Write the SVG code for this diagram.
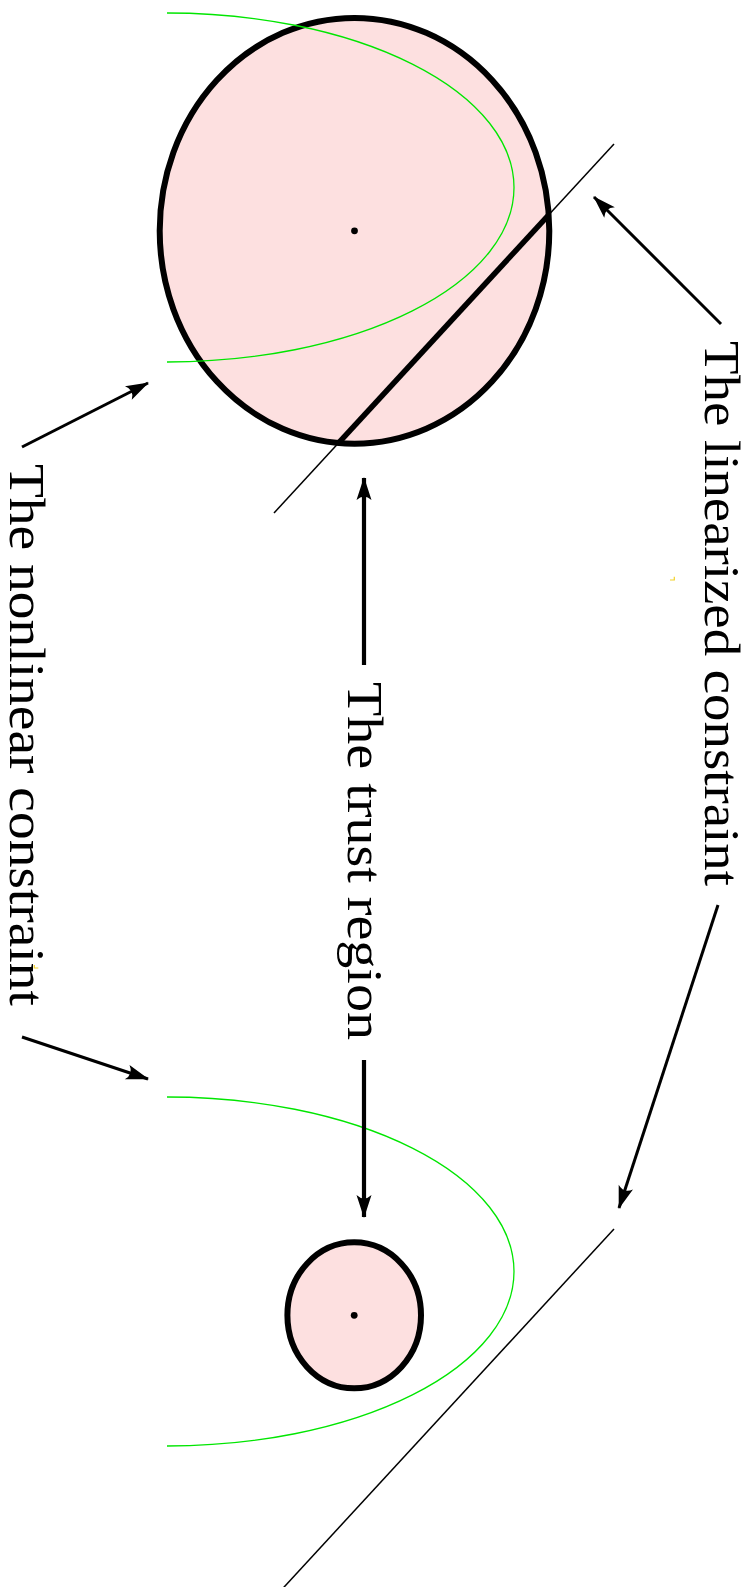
<svg xmlns="http://www.w3.org/2000/svg" width="752" height="1587" viewBox="0 0 752 1587">
  <style>
    .region { fill: #fde0e0; stroke: #000; }
    .nonlin { fill: none; stroke: #00e600; stroke-width: 1.3; }
    .thin { fill: none; stroke: #000; stroke-width: 1.5; }
    .chord { fill: none; stroke: #000; stroke-width: 5.5; }
    .dot { fill: #000; }
    .arrow { fill: none; stroke: #000; stroke-width: 3; marker-end: url(#head); }
    .arrow.bold { stroke-width: 4.2; }
    .label { font-family: "Liberation Serif", "Times New Roman", serif; font-size: 50px; fill: #000; }
    .speck { fill: none; stroke: #f2d22a; stroke-width: 1.2; }
  </style>
  <defs>
    <marker id="head" markerUnits="userSpaceOnUse" viewBox="-24 -9 26 18" refX="0" refY="0" markerWidth="26" markerHeight="18" orient="auto">
      <path d="M1,0 L-22,-7.5 Q-15,0 -22,7.5 Z" fill="#000"/>
    </marker>
  </defs>

  <g id="large-trust-region">
    <ellipse class="region" cx="354.5" cy="230.8" rx="194.8" ry="212.9" stroke-width="6"/>
    <circle class="dot" cx="354.5" cy="230.8" r="3.4"/>
  </g>
  <g id="nonlinear-constraint-top">
    <path class="nonlin" d="M167,13 A347,174.5 0 0 1 167,362"/>
  </g>
  <g id="linearized-constraint-top">
    <line class="thin" x1="614" y1="144" x2="274" y2="513"/>
    <line class="chord" x1="548.5" y1="215.1" x2="339.1" y2="442.3"/>
  </g>

  <g id="small-trust-region">
    <ellipse class="region" cx="354.2" cy="1315.3" rx="66.8" ry="73" stroke-width="6"/>
    <circle class="dot" cx="354.2" cy="1315.3" r="3.4"/>
  </g>
  <g id="nonlinear-constraint-bottom">
    <path class="nonlin" d="M167,1097 A347,174.5 0 0 1 167,1446"/>
  </g>
  <g id="linearized-constraint-bottom">
    <line class="thin" x1="614" y1="1229" x2="274" y2="1598"/>
  </g>

  <g id="label-nonlinear">
    <text class="label" transform="translate(10,464) rotate(90)" font-size="46" textLength="542" lengthAdjust="spacingAndGlyphs">The nonlinear constraint</text>
  </g>
  <g id="label-linearized">
    <text class="label" transform="translate(705,341) rotate(90)" textLength="545" lengthAdjust="spacingAndGlyphs">The linearized constraint</text>
  </g>
  <g id="label-trust">
    <text class="label" transform="translate(348,682) rotate(90)" textLength="358" lengthAdjust="spacingAndGlyphs">The trust region</text>
  </g>

  <g id="connectors">
    <line class="arrow" x1="22" y1="447" x2="148" y2="383"/>
    <line class="arrow" x1="22" y1="1037" x2="148" y2="1079"/>
    <line class="arrow" x1="721" y1="324" x2="594" y2="197"/>
    <line class="arrow" x1="718" y1="905" x2="619" y2="1208"/>
    <line class="arrow bold" x1="364" y1="665" x2="364" y2="478"/>
    <line class="arrow bold" x1="364" y1="1060" x2="364" y2="1217"/>
  </g>

  <path class="speck" d="M670,580 H674.3 V576.7"/>
  <path class="speck" d="M34.3,965 V968 H38.3"/>
</svg>
